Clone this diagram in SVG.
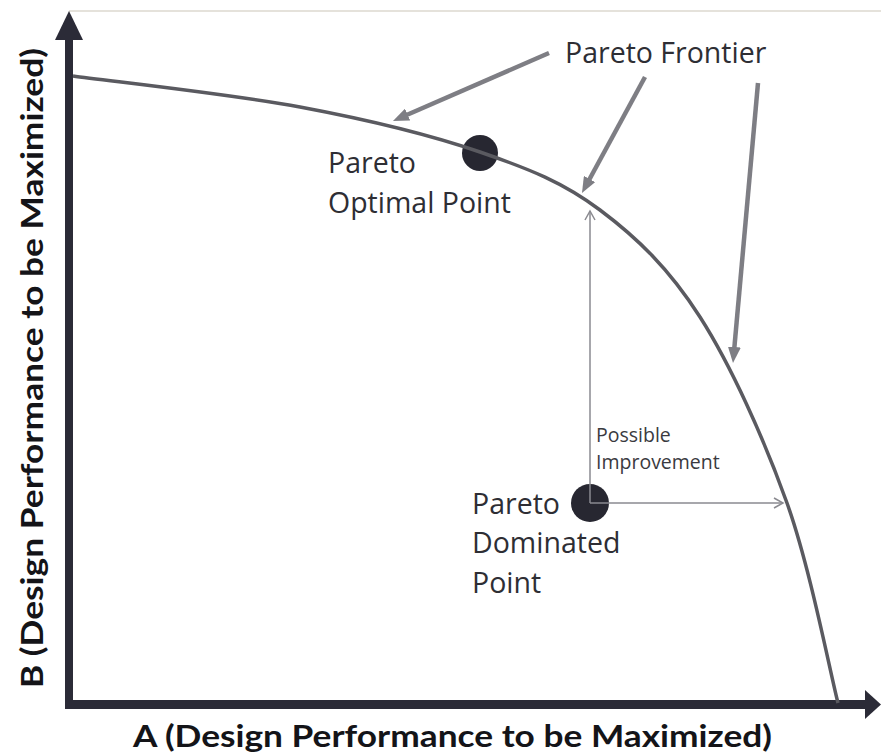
<svg xmlns="http://www.w3.org/2000/svg" width="881" height="756" viewBox="0 0 881 756">
  <style>
    .axis { stroke: #2b2b37; fill: none; }
    .axis-head { fill: #2b2b37; }
    .axis-label { font-family: Lato, "Open Sans", "Liberation Sans", sans-serif; font-weight: 700; font-size: 31px; fill: #141418; }
    .label { font-family: "Open Sans", "Noto Sans", "Liberation Sans", sans-serif; font-size: 28.5px; fill: #2e2e34; }
    .small { font-family: "Open Sans", "Noto Sans", "Liberation Sans", sans-serif; font-size: 19.5px; fill: #3a3a40; }
    .dot { fill: #272731; }
    .frontier { stroke: #5a5a60; stroke-width: 3.5; fill: none; }
    .pointer { stroke: #7e7e84; stroke-width: 4.5; fill: none; marker-end: url(#solid); }
    .improve { stroke: #8a8a90; stroke-width: 1.5; fill: none; marker-end: url(#open); }
  </style>
  <defs>
    <marker id="solid" viewBox="0 0 16 13" markerWidth="16" markerHeight="13" refX="8" refY="6.5" orient="auto" markerUnits="userSpaceOnUse">
      <path d="M0,0 L16,6.5 L0,13 Z" fill="#7e7e84"/>
    </marker>
    <marker id="open" viewBox="0 0 12 12" markerWidth="12" markerHeight="12" refX="10" refY="6" orient="auto" markerUnits="userSpaceOnUse">
      <path d="M1,1 L10,6 L1,11" fill="none" stroke="#8a8a90" stroke-width="1.5"/>
    </marker>
  </defs>

  <rect width="881" height="756" fill="#ffffff"/>
  <!-- faint top rule -->
  <line x1="69" y1="11" x2="881" y2="11" stroke="#dcd8cf" stroke-width="1.5"/>

  <!-- axes -->
  <g id="axes">
    <line class="axis" x1="69" y1="38" x2="69" y2="709" stroke-width="8"/>
    <polygon class="axis-head" points="69,11 83,40 55,40"/>
    <line class="axis" x1="65" y1="704.5" x2="866" y2="704.5" stroke-width="9"/>
    <polygon class="axis-head" points="881,704.5 865,690 865,719"/>
    <text class="axis-label" x="133" y="747" textLength="639" lengthAdjust="spacingAndGlyphs">A (Design Performance to be Maximized)</text>
    <text class="axis-label" transform="translate(43,688) rotate(-90)" x="0" y="0" textLength="640" lengthAdjust="spacingAndGlyphs">B (Design Performance to be Maximized)</text>
  </g>

  <!-- points -->
  <g id="optimal-point">
    <circle class="dot" cx="480" cy="153" r="18"/>
    <text class="label" x="328" y="173">Pareto</text>
    <text class="label" x="328" y="213">Optimal Point</text>
  </g>
  <g id="dominated-point">
    <circle class="dot" cx="590" cy="503" r="19"/>
    <text class="label" x="472" y="514">Pareto</text>
    <text class="label" x="472" y="553">Dominated</text>
    <text class="label" x="472" y="593">Point</text>
  </g>
  <g id="frontier-label">
    <text class="label" x="565" y="63">Pareto Frontier</text>
  </g>
  <g id="improvement-label">
    <text class="small" x="596" y="442">Possible</text>
    <text class="small" x="596" y="469">Improvement</text>
  </g>

  <!-- connectors -->
  <g id="connectors">
    <path id="frontier" class="frontier" d="M73,76 C110.8,81.2 232.2,94.3 300,107 C367.8,119.7 430,134.8 480,152 C530,169.2 563.3,182.5 600,210 C636.7,237.5 668.8,268.2 700,317 C731.2,365.8 764,438.7 787,503 C810,567.3 829.5,669.7 838,703"/>
    <line class="pointer" x1="549" y1="53" x2="400.3" y2="117.8"/>
    <line class="pointer" x1="645" y1="77" x2="585.8" y2="186"/>
    <line class="pointer" x1="758" y1="83" x2="733.7" y2="355"/>
    <line class="improve" x1="590" y1="503" x2="590" y2="211"/>
    <line class="improve" x1="590" y1="503" x2="783" y2="503"/>
  </g>
</svg>
